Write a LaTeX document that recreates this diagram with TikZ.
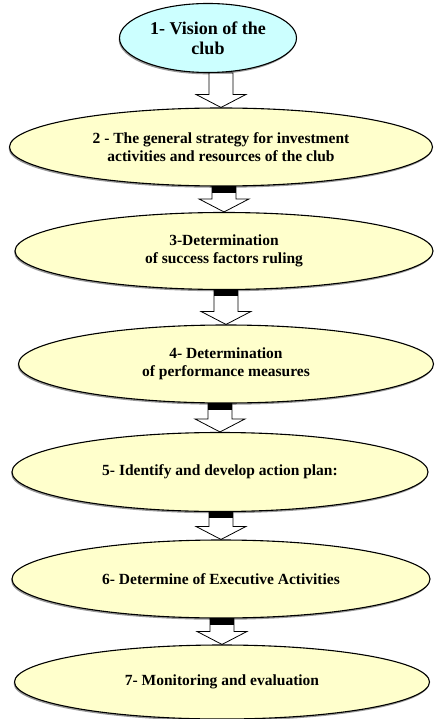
\documentclass[tikz,border=0pt]{standalone}
\usepackage{fontspec}
\setmainfont{Liberation Serif}
\usetikzlibrary{shapes.geometric,shadows,calc}
\definecolor{paleyellow}{RGB}{255,255,204}
\definecolor{palecyan}{RGB}{204,255,255}

\begin{document}
\begin{tikzpicture}[x=1pt,y=-1pt,
  stage/.style={ellipse, draw=black, line width=1.1pt, fill=paleyellow, inner sep=0pt, align=center,
    font=\bfseries\fontsize{15.5}{18}\selectfont,
    drop shadow={shadow xshift=-0.8pt, shadow yshift=-1.8pt, opacity=0.8}},
  blockarrow/.style={draw=black, line width=0.8pt, fill=white,
    to path={let \p1=(\tikztostart), \p2=(\tikztotarget) in
      (\x2-12pt,\y1) -- (\x2+12pt,\y1) -- (\x2+12pt,\y2+13pt) -- (\x2+25pt,\y2+13pt)
      -- (\x2,\y2) -- (\x2-25pt,\y2+13pt) -- (\x2-12pt,\y2+13pt) -- cycle}}]
  \useasboundingbox (0,0) rectangle (434,719);
  % the seven steps
  \node [stage, fill=palecyan, minimum width=177pt, minimum height=69pt,
    font=\bfseries\fontsize{18}{20}\selectfont] (e1) at (208,38) {1- Vision of the\\club};
  \node [stage, minimum width=423pt, minimum height=78pt] (e2) at (221,147)
    {2 - The general strategy for investment\\activities and resources of the club};
  \node [stage, minimum width=418pt, minimum height=77pt] (e3) at (224,251)
    {3-Determination\\of success factors ruling};
  \node [stage, minimum width=415pt, minimum height=78pt] (e4) at (226,364)
    {4- Determination\\of performance measures};
  \node [stage, minimum width=416pt, minimum height=79pt] (e5) at (220,472)
    {5- Identify and develop action plan:};
  \node [stage, minimum width=418pt, minimum height=78pt] (e6) at (221,579)
    {6- Determine of Executive Activities};
  \node [stage, minimum width=415pt, minimum height=74pt] (e7) at (222,682)
    {7- Monitoring and evaluation};
  % arrows between the steps
  \foreach \a/\b in {e1/e2,e2/e3,e3/e4,e4/e5,e5/e6,e6/e7}
    \draw [blockarrow] (\a.south) to (\b.north);
  \foreach \a/\b in {e2/e3,e3/e4,e4/e5,e5/e6,e6/e7}
    \fill let \p1=(\a.south), \p2=(\b.north) in (\x2-12pt,\y1) rectangle (\x2+12pt,\y1-6pt);
\end{tikzpicture}
\end{document}
